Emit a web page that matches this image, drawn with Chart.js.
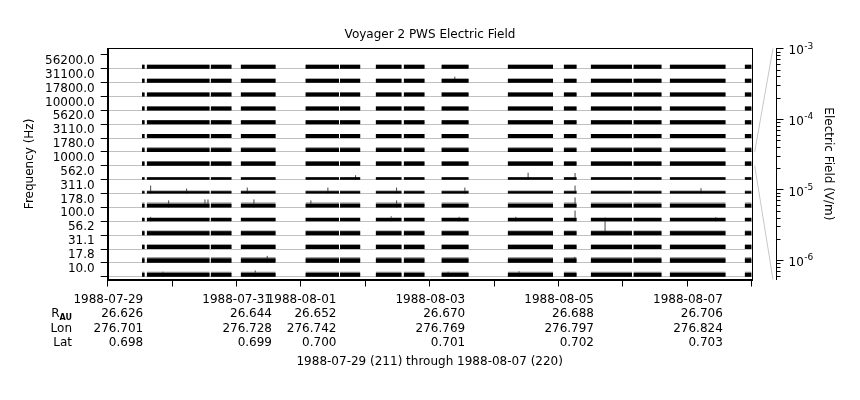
<!DOCTYPE html>
<html>
<head>
<meta charset="utf-8">
<title>Voyager 2 PWS Electric Field</title>
<script src="https://cdn.jsdelivr.net/npm/chart.js@4/dist/chart.umd.min.js"></script>
<style>
  html, body { margin: 0; padding: 0; background: #fff; }
  canvas { display: block; }
</style>
</head>
<body>
<canvas id="pws" width="860" height="400"></canvas>
<script>
// Frequency channels, top strip first
const freqLabels = ['56200.0', '31100.0', '17800.0', '10000.0', '5620.0', '3110.0', '1780.0', '1000.0',
                    '562.0', '311.0', '178.0', '100.0', '56.2', '31.1', '17.8', '10.0'];
// Background level (black) and peak level (grey) per channel, V/m
const bgField   = [4.7e-6, 4.7e-6, 4.7e-6, 4.7e-6, 4.7e-6, 4.7e-6, 4.0e-6, 5.5e-6,
                   2.1e-6, 1.9e-6, 3.2e-6, 3.2e-6, 4.7e-6, 4.7e-6, 5.5e-6, 4.0e-6];
const peakField = [4.7e-6, 4.7e-6, 4.7e-6, 4.7e-6, 4.7e-6, 4.7e-6, 6.5e-6, 5.5e-6,
                   2.1e-6, 2.7e-6, 8.0e-6, 4.0e-6, 6.8e-6, 6.8e-6, 1.1e-5, 8.0e-6];
// Data coverage, days after 1988-07-29 00:00
const segStart = [0.533, 0.606, 1.599, 2.065, 3.070, 3.607, 4.161, 4.596, 5.182, 6.211, 7.081, 7.500, 8.163, 8.727, 9.891];
const segEnd   = [0.575, 1.584, 1.925, 2.609, 3.592, 3.924, 4.565, 4.922, 5.606, 6.915, 7.283, 8.141, 8.602, 9.596, 10.0];
// Isolated spikes: channel, day, field (V/m)
const spikeChan  = ['311.0', '100.0', '10.0', '178.0', '311.0', '178.0', '178.0', '311.0', '178.0', '10.0', '17.8',
                    '178.0', '311.0', '562.0', '100.0', '178.0', '311.0', '10.0', '31100.0', '100.0', '311.0',
                    '10.0', '100.0', '562.0', '17.8', '562.0', '311.0', '178.0', '100.0', '56.2', '311.0', '100.0'];
const spikeDay   = [0.667, 0.667, 0.858, 0.947, 1.226, 1.510, 1.557, 2.167, 2.271, 2.291, 2.477,
                    3.155, 3.419, 3.849, 4.402, 4.486, 4.486, 5.286, 5.390, 5.457, 5.546,
                    6.388, 6.337, 6.528, 7.253, 7.257, 7.257, 7.257, 7.257, 7.723, 9.213, 9.441];
const spikeField = [4.1e-5, 6.0e-6, 8.0e-6, 2.4e-5, 8.0e-6, 4.1e-5, 4.1e-5, 1.4e-5, 4.1e-5, 1.6e-5, 2.4e-5,
                    2.4e-5, 1.4e-5, 6.0e-6, 8.0e-6, 2.4e-5, 1.4e-5, 8.0e-6, 1.4e-5, 6.0e-6, 1.4e-5,
                    1.0e-5, 6.0e-6, 2.4e-5, 1.4e-5, 2.0e-5, 4.1e-5, 1.2e-4, 1.8e-4, 8.1e-3, 1.0e-5, 5.0e-6];
// Bottom axis labels and ephemeris
const tickDays = [0, 2, 3, 5, 7, 9];
const tickDates = ['1988-07-29', '1988-07-31', '1988-08-01', '1988-08-03', '1988-08-05', '1988-08-07'];
const rAU    = ['26.626', '26.644', '26.652', '26.670', '26.688', '26.706'];
const lonDeg = ['276.701', '276.728', '276.742', '276.769', '276.797', '276.824'];
const latDeg = ['0.698', '0.699', '0.700', '0.701', '0.702', '0.703'];
// Electric field scale (one strip spans this range)
const fieldMin = 5.3e-7, fieldMax = 1e-3;
const fieldDecades = [1e-6, 1e-5, 1e-4, 1e-3];
const fieldDecadeExp = ['-6', '-5', '-4', '-3'];
const refChannel = '1000.0';

const nChan = freqLabels.length;
const lMin = Math.log10(fieldMin), lMax = Math.log10(fieldMax);
const strip = v => (Math.log10(v) - lMin) / (lMax - lMin);
const chanIndex = f => nChan - 1 - freqLabels.indexOf(f);
const FONT = "'DejaVu Sans', sans-serif";

Chart.defaults.font.family = FONT;
Chart.defaults.font.size = 12;
Chart.defaults.color = '#000';

const datasets = [];
freqLabels.forEach((f, i) => {
    const k = nChan - 1 - i;
    const bar = v => {
        const pts = [];
        segStart.forEach((s, j) => {
            pts.push({x: s, y: k + strip(v)}, {x: segEnd[j], y: k + strip(v)}, {x: segEnd[j], y: null});
        });
        return pts;
    };
    datasets.push({data: bar(peakField[i]), fill: {value: k}, backgroundColor: '#808080',
                   borderColor: 'rgba(0,0,0,0)', order: 3});
    datasets.push({data: bar(bgField[i]), fill: {value: k}, backgroundColor: '#000',
                   borderColor: 'rgba(0,0,0,0)', order: 1});
});

// spikes as vertical strokes from the strip baseline
const spikePts = [];
spikeDay.map((d, j) => j).sort((a, b) => spikeDay[a] - spikeDay[b]).forEach(j => {
    const k = chanIndex(spikeChan[j]);
    spikePts.push({x: spikeDay[j], y: k}, {x: spikeDay[j], y: k + strip(spikeField[j])}, {x: spikeDay[j], y: null});
});
datasets.push({data: spikePts, borderColor: '#444', borderWidth: 1, fill: false, order: 2});

// field axis ticks: decades plus 2..9 minors
const fieldTicks = [];
[1e-7].concat(fieldDecades).forEach(d => {
    for (let m = 1; m <= 9; m++) {
        const v = d * m;
        if (v >= fieldMin * 0.999 && v <= fieldMax * 1.001) fieldTicks.push(v);
    }
});
const decadeOf = v => fieldDecades.findIndex(d => Math.abs(d - v) / d < 1e-6);

const pwsDecor = {
    id: 'pwsDecor',
    afterDraw(chart) {
        const {ctx, chartArea: a, scales} = chart;
        ctx.save();
        ctx.strokeStyle = '#000';
        ctx.lineWidth = 1;
        const L = Math.round(a.left), T = Math.round(a.top), R = Math.round(a.right), B = Math.round(a.bottom);
        ctx.strokeRect(L + 0.5, T + 0.5, R - L, B - T);

        // right axis tick marks and 10^n labels
        const fs = scales.field;
        const x0 = Math.round(fs.left) + 0.5;
        ctx.beginPath();
        fs.ticks.forEach(t => {
            const y = Math.round(fs.getPixelForValue(t.value)) + 0.5;
            ctx.moveTo(x0, y);
            ctx.lineTo(x0 + (decadeOf(t.value) >= 0 ? 7 : 4), y);
        });
        ctx.stroke();
        ctx.fillStyle = '#000';
        ctx.textAlign = 'left';
        ctx.textBaseline = 'middle';
        fieldDecades.forEach((d, j) => {
            const y = fs.getPixelForValue(d);
            ctx.font = '12px ' + FONT;
            ctx.fillText('10', x0 + 12, y + 3);
            const w = ctx.measureText('10').width;
            ctx.font = '9px ' + FONT;
            ctx.fillText(fieldDecadeExp[j], x0 + 12 + w + 0.5, y - 2);
        });

        // strip -> field scale guides
        const k = chanIndex(refChannel);
        ctx.strokeStyle = '#c8c8c8';
        ctx.beginPath();
        ctx.moveTo(a.right + 3, scales.y.getPixelForValue(k + 1));
        ctx.lineTo(fs.left - 3, fs.top);
        ctx.moveTo(a.right + 3, scales.y.getPixelForValue(k));
        ctx.lineTo(fs.left - 3, fs.bottom);
        ctx.stroke();

        // ephemeris row names
        const xs = scales.x;
        const row = i => xs.top + 7 + 6 + 14.4 * (i + 0.5);
        ctx.font = 'bold 8px ' + FONT;
        const auW = ctx.measureText('AU').width;
        ctx.textAlign = 'left';
        ctx.fillText('AU', 72 - auW, row(1) + 4);
        ctx.font = '12px ' + FONT;
        ctx.textAlign = 'right';
        ctx.fillText('R', 72 - auW, row(1));
        ctx.fillText('Lon', 72, row(2));
        ctx.fillText('Lat', 72, row(3));
        ctx.restore();
    }
};

new Chart(document.getElementById('pws'), {
    type: 'line',
    data: {datasets},
    plugins: [pwsDecor],
    options: {
        responsive: false,
        animation: false,
        spanGaps: false,
        layout: {padding: 0},
        elements: {point: {radius: 0}, line: {tension: 0, borderWidth: 1}},
        plugins: {
            legend: {display: false},
            tooltip: {enabled: false},
            title: {
                display: true,
                text: 'Voyager 2 PWS Electric Field',
                color: '#000',
                font: {size: 12, weight: 'normal'},
                padding: {top: 27.4, bottom: 6.5}
            }
        },
        scales: {
            x: {
                type: 'linear',
                min: 0,
                max: 10,
                ticks: {
                    stepSize: 1,
                    autoSkip: false,
                    maxRotation: 0,
                    align: 'end',
                    labelOffset: 35.5,
                    padding: 6,
                    color: '#000',
                    callback: v => {
                        const j = tickDays.indexOf(v);
                        return j < 0 ? '' : [tickDates[j], rAU[j], lonDeg[j], latDeg[j]];
                    }
                },
                grid: {drawOnChartArea: false, tickLength: 7, tickColor: '#000'},
                border: {display: true, color: '#000'},
                title: {
                    display: true,
                    text: '1988-07-29 (211) through 1988-08-07 (220)',
                    color: '#000',
                    padding: {top: 4, bottom: 31}
                },
                afterFit: s => { s.height = 120.5; }
            },
            y: {
                type: 'linear',
                position: 'left',
                min: -0.2,
                max: 16.48,
                afterBuildTicks: s => { s.ticks = freqLabels.concat(['']).map((_, j) => ({value: j})); },
                ticks: {
                    autoSkip: false,
                    labelOffset: -8,
                    padding: 6,
                    color: '#000',
                    callback: v => (v < nChan ? freqLabels[nChan - 1 - v] : '')
                },
                grid: {
                    color: c => (c.tick && c.tick.value < nChan ? '#c0c0c0' : 'rgba(0,0,0,0)'),
                    tickColor: '#000',
                    tickLength: 7
                },
                border: {display: true, color: '#000'},
                title: {
                    display: true,
                    text: 'Frequency (Hz)',
                    color: '#000',
                    padding: {top: 22.8, bottom: 0}
                },
                afterFit: s => { s.width = 107.7; }
            },
            gap: {
                type: 'linear',
                position: 'right',
                weight: 0,
                ticks: {display: false},
                grid: {display: false},
                border: {display: false},
                afterFit: s => { s.width = 24.3; }
            },
            field: {
                type: 'logarithmic',
                position: 'right',
                weight: 1,
                min: fieldMin,
                max: fieldMax,
                afterBuildTicks: s => { s.ticks = fieldTicks.map(v => ({value: v})); },
                ticks: {display: false},
                grid: {drawOnChartArea: false, drawTicks: false},
                border: {display: true, color: '#000'},
                title: {
                    display: true,
                    text: 'Electric Field (V/m)',
                    color: '#000',
                    padding: {top: 24.8, bottom: 0}
                },
                afterFit: s => { s.width = 84; }
            }
        }
    }
});
</script>
</body>
</html>
